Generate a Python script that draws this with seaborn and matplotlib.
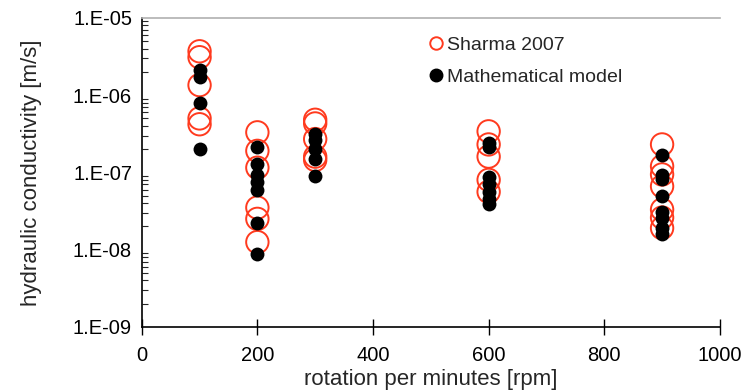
import numpy as np
import pandas as pd
import matplotlib
matplotlib.use("Agg")
import matplotlib.pyplot as plt
import seaborn as sns
from matplotlib.lines import Line2D
from matplotlib.ticker import LogLocator, FixedLocator, FixedFormatter

# rotações (rpm) e condutividade hidráulica (m/s)
sharma_rpm = [100] * 5 + [200] * 6 + [300] * 5 + [600] * 5 + [900] * 7
sharma_k = [3.7e-6, 3.1e-6, 1.35e-6, 5.0e-7, 4.2e-7,
            3.3e-7, 1.9e-7, 1.15e-7, 3.5e-8, 2.5e-8, 1.25e-8,
            4.8e-7, 4.3e-7, 2.7e-7, 1.6e-7, 1.45e-7,
            3.4e-7, 2.3e-7, 1.6e-7, 8.0e-8, 5.6e-8,
            2.3e-7, 1.2e-7, 9.4e-8, 6.6e-8, 3.3e-8, 2.6e-8, 1.9e-8]

model_rpm = [100] * 4 + [200] * 7 + [300] * 5 + [600] * 7 + [900] * 8
model_k = [2.1e-6, 1.7e-6, 8.0e-7, 2.0e-7,
           2.1e-7, 1.27e-7, 9.3e-8, 7.6e-8, 6.0e-8, 2.2e-8, 8.8e-9,
           3.1e-7, 2.6e-7, 2.0e-7, 1.5e-7, 9.0e-8,
           2.4e-7, 2.1e-7, 8.6e-8, 7.0e-8, 5.6e-8, 4.5e-8, 3.9e-8,
           1.7e-7, 9.3e-8, 8.1e-8, 4.9e-8, 3.1e-8, 2.6e-8, 1.9e-8, 1.6e-8]

y_ticks = [1e-9, 1e-8, 1e-7, 1e-6, 1e-5]
y_tick_labels = ["1.E-09", "1.E-08", "1.E-07", "1.E-06", "1.E-05"]

sharma = pd.DataFrame({"rpm": sharma_rpm, "k": sharma_k})
model = pd.DataFrame({"rpm": model_rpm, "k": model_k})

sns.set_style("white")
plt.rcParams["font.family"] = ["Liberation Sans", "DejaVu Sans"]

red = "#FF3A1E"

fig = plt.figure(figsize=(7.46, 3.9), dpi=100)
ax = fig.add_axes([0.19, 0.162, 0.775, 0.792])

sns.scatterplot(data=sharma, x="rpm", y="k", ax=ax, s=260,
                facecolor="none", edgecolor=red, linewidth=1.4, zorder=2)
sns.scatterplot(data=model, x="rpm", y="k", ax=ax, s=100,
                color="black", edgecolor="black", linewidth=0, zorder=3)

ax.set_yscale("log")
ax.set_ylim(1e-9, 1e-5)
ax.set_xlim(0, 1000)
ax.set_xticks([0, 200, 400, 600, 800, 1000])
ax.yaxis.set_major_locator(FixedLocator(y_ticks))
ax.yaxis.set_major_formatter(FixedFormatter(y_tick_labels))
ax.yaxis.set_minor_locator(LogLocator(base=10, subs=np.arange(2, 10)))

ax.set_xlabel("rotation per minutes [rpm]", fontsize=16, labelpad=3)
ax.set_ylabel("hydraulic conductivity [m/s]", fontsize=16, labelpad=22)
ax.tick_params(axis="both", labelsize=14.5, colors="black")
ax.tick_params(axis="y", which="major", direction="inout", length=10, width=1, pad=2)
ax.tick_params(axis="y", which="minor", direction="in", length=4, width=0.8, left=True)
ax.tick_params(axis="x", which="major", direction="inout", length=12, width=1,
               bottom=True, pad=8)

ax.spines["top"].set_color("#b0b0b0")
ax.spines["top"].set_linewidth(1.2)
ax.spines["right"].set_visible(False)
for side in ["left", "bottom"]:
    ax.spines[side].set_color("black")
    ax.spines[side].set_linewidth(1.2)

handles = [
    Line2D([], [], linestyle="none", marker="o", markersize=9,
           markerfacecolor="none", markeredgecolor=red, markeredgewidth=1.4),
    Line2D([], [], linestyle="none", marker="o", markersize=9,
           markerfacecolor="black", markeredgecolor="black"),
]
ax.legend(handles, ["Sharma 2007", "Mathematical model"], loc="upper left",
          bbox_to_anchor=(0.468, 0.998), frameon=False, fontsize=14,
          handlelength=0.6, handletextpad=0.3, labelspacing=0.75)

fig.savefig("out.png", dpi=100)
